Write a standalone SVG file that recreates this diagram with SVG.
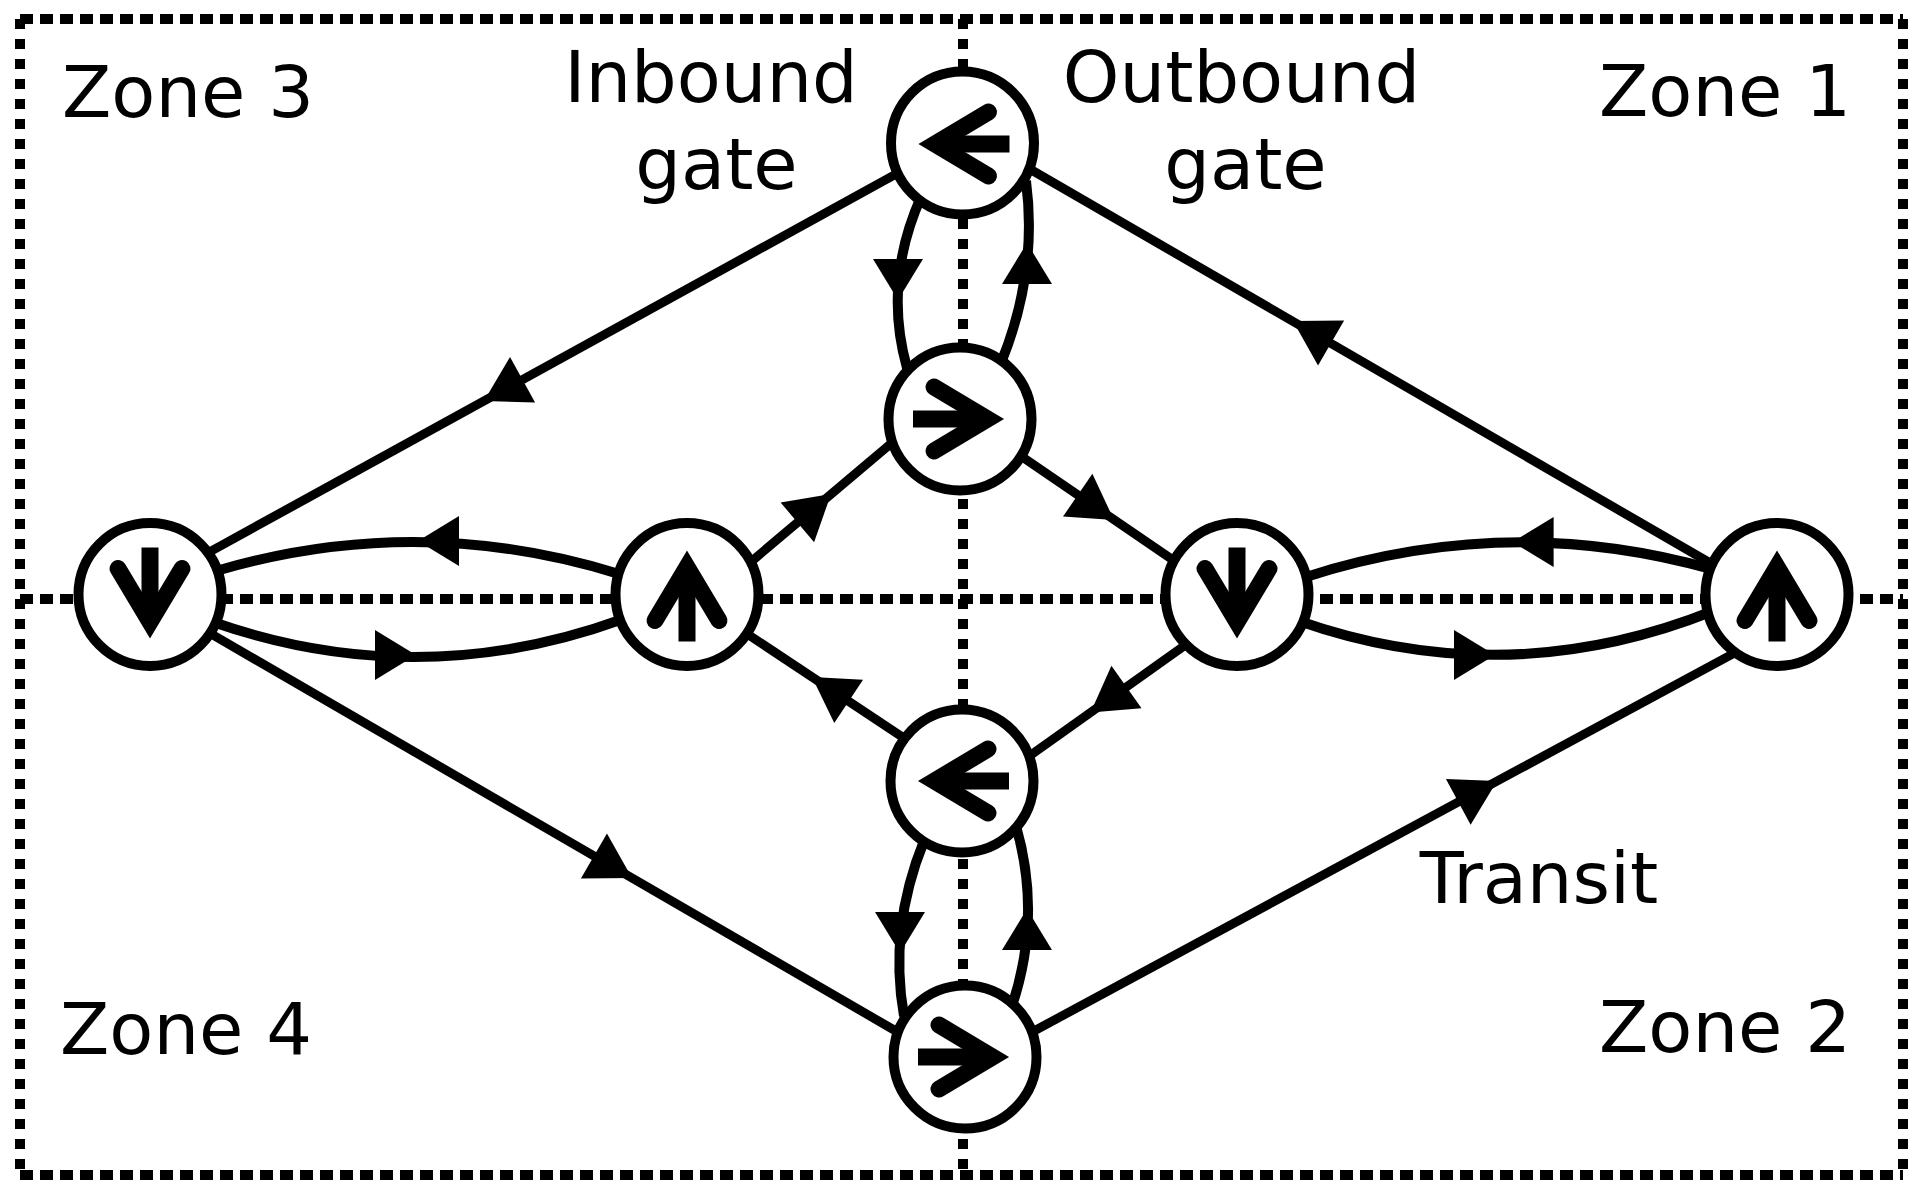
<svg xmlns="http://www.w3.org/2000/svg" xmlns:xlink="http://www.w3.org/1999/xlink" width="1930" height="1200" viewBox="0 0 1930 1200">
<style>
.bg{fill:#fff}
.dh{stroke:#000;stroke-width:10;stroke-dasharray:13 7;fill:none}
.dv{stroke:#000;stroke-width:10;stroke-dasharray:10 10;fill:none}
.ln{fill:none;stroke:#000;stroke-width:9}
.cv{fill:none;stroke:#000;stroke-width:10}
.ah{fill:#000;stroke:none}
.ring{fill:#fff;stroke:#000;stroke-width:10}
.gh{fill:none;stroke:#000;stroke-width:17;stroke-linecap:round;stroke-linejoin:miter;stroke-miterlimit:6}
.gs{fill:none;stroke:#000;stroke-width:17;stroke-linecap:butt}
text{font-family:"DejaVu Sans",Verdana,"Liberation Sans",sans-serif;font-size:72px;fill:#000}
</style>
<defs>
<path id="ah" class="ah" d="M0,0 L-41,-25 L-41,25 Z"/>
<path id="ahl" class="ah" d="M0,0 L-44,-26 L-44,26 Z"/>
<g id="gl">
<path class="gs" d="M-15,0 H47"/>
<path class="gh" d="M26,-32 L-27.5,0 L26,32"/>
</g>
</defs>
<rect class="bg" x="0" y="0" width="1930" height="1200"/>
<g id="grid">
<line class="dh" x1="20" y1="19" x2="1903" y2="19"/>
<line class="dh" x1="20" y1="1175" x2="1903" y2="1175"/>
<line class="dv" x1="20" y1="19" x2="20" y2="1175"/>
<line class="dv" x1="1903" y1="19" x2="1903" y2="1175"/>
<line class="dh" x1="20" y1="599" x2="1903" y2="599"/>
<line class="dv" x1="963" y1="19" x2="963" y2="1175"/>
</g>
<g id="connectors">
<path class="ln" d="M899.5,172.1 L206,553.9"/>
<path class="ln" d="M1711.9,564 L1024.6,166"/>
<path class="ln" d="M208.5,632.4 L899.3,1033"/>
<path class="ln" d="M1030.7,1032.8 L1742.6,648.6"/>
<path class="ln" d="M746.9,565.2 L894.8,440.4"/>
<path class="ln" d="M1018.7,454.5 L1179.6,564.5"/>
<path class="ln" d="M1190.5,641.4 L1025,759.1"/>
<path class="ln" d="M911.4,743 L744.3,632"/>
<path class="cv" d="M619,574 Q418,511.5 216,571"/>
<path class="cv" d="M213,622 Q418,693.5 623,619"/>
<path class="cv" d="M1711,569 Q1508.5,512 1306,577"/>
<path class="cv" d="M1299,621 Q1506,693.4 1713,611"/>
<path class="cv" d="M921,197 Q883,282.5 907,368"/>
<path class="cv" d="M1001,363 Q1038,272 1026,181"/>
<path class="cv" d="M924,841 Q888.5,928.5 904,1016"/>
<path class="cv" d="M1012,1006 Q1042,916 1016,826"/>
<use xlink:href="#ahl" transform="translate(484,401) rotate(151.2)"/>
<use xlink:href="#ahl" transform="translate(1293,321) rotate(-149.9)"/>
<use xlink:href="#ahl" transform="translate(632,878) rotate(30.1)"/>
<use xlink:href="#ahl" transform="translate(1497,781) rotate(-28.35)"/>
<use xlink:href="#ahl" transform="translate(831,494) rotate(-40.1)"/>
<use xlink:href="#ahl" transform="translate(1114,520) rotate(34.4)"/>
<use xlink:href="#ahl" transform="translate(1090.6,712.5) rotate(144.6)"/>
<use xlink:href="#ahl" transform="translate(812,677) rotate(-146.4)"/>
<use xlink:href="#ah" transform="translate(418,541) rotate(180)"/>
<use xlink:href="#ah" transform="translate(416,655)"/>
<use xlink:href="#ah" transform="translate(1512.6,542) rotate(180)"/>
<use xlink:href="#ah" transform="translate(1495,655)"/>
<use xlink:href="#ah" transform="translate(898,300) rotate(90)"/>
<use xlink:href="#ah" transform="translate(1027,243) rotate(-90)"/>
<use xlink:href="#ah" transform="translate(900,953) rotate(90)"/>
<use xlink:href="#ah" transform="translate(1027,909) rotate(-90)"/>
</g>
<g id="node-inbound-gate"><circle class="ring" cx="962.5" cy="143" r="71.5"/><use xlink:href="#gl" transform="translate(962.5,144)"/></g>
<g id="node-b"><circle class="ring" cx="960" cy="419" r="71.5"/><use xlink:href="#gl" transform="translate(960,419) rotate(180)"/></g>
<g id="node-c"><circle class="ring" cx="150" cy="594.5" r="71.5"/><use xlink:href="#gl" transform="translate(150,594.5) rotate(-90)"/></g>
<g id="node-d"><circle class="ring" cx="687" cy="594.5" r="71.5"/><use xlink:href="#gl" transform="translate(687,594.5) rotate(90)"/></g>
<g id="node-e"><circle class="ring" cx="1237" cy="594.5" r="71.5"/><use xlink:href="#gl" transform="translate(1237,594.5) rotate(-90)"/></g>
<g id="node-f"><circle class="ring" cx="1777" cy="594.5" r="71.5"/><use xlink:href="#gl" transform="translate(1777,594.5) rotate(90)"/></g>
<g id="node-g"><circle class="ring" cx="962" cy="781" r="71.5"/><use xlink:href="#gl" transform="translate(962,781)"/></g>
<g id="node-h"><circle class="ring" cx="965" cy="1057" r="71.5"/><use xlink:href="#gl" transform="translate(965,1057) rotate(180)"/></g>
<g id="labels">
<text x="62" y="117">Zone 3</text>
<text x="1599" y="116">Zone 1</text>
<text x="60" y="1054">Zone 4</text>
<text x="1599" y="1052">Zone 2</text>
<text x="711" y="102" text-anchor="middle">Inbound</text>
<text x="716.5" y="189" text-anchor="middle">gate</text>
<text x="1241.5" y="102" text-anchor="middle">Outbound</text>
<text x="1245.5" y="189" text-anchor="middle">gate</text>
<text x="1539" y="903" text-anchor="middle">Transit</text>
</g>
</svg>
